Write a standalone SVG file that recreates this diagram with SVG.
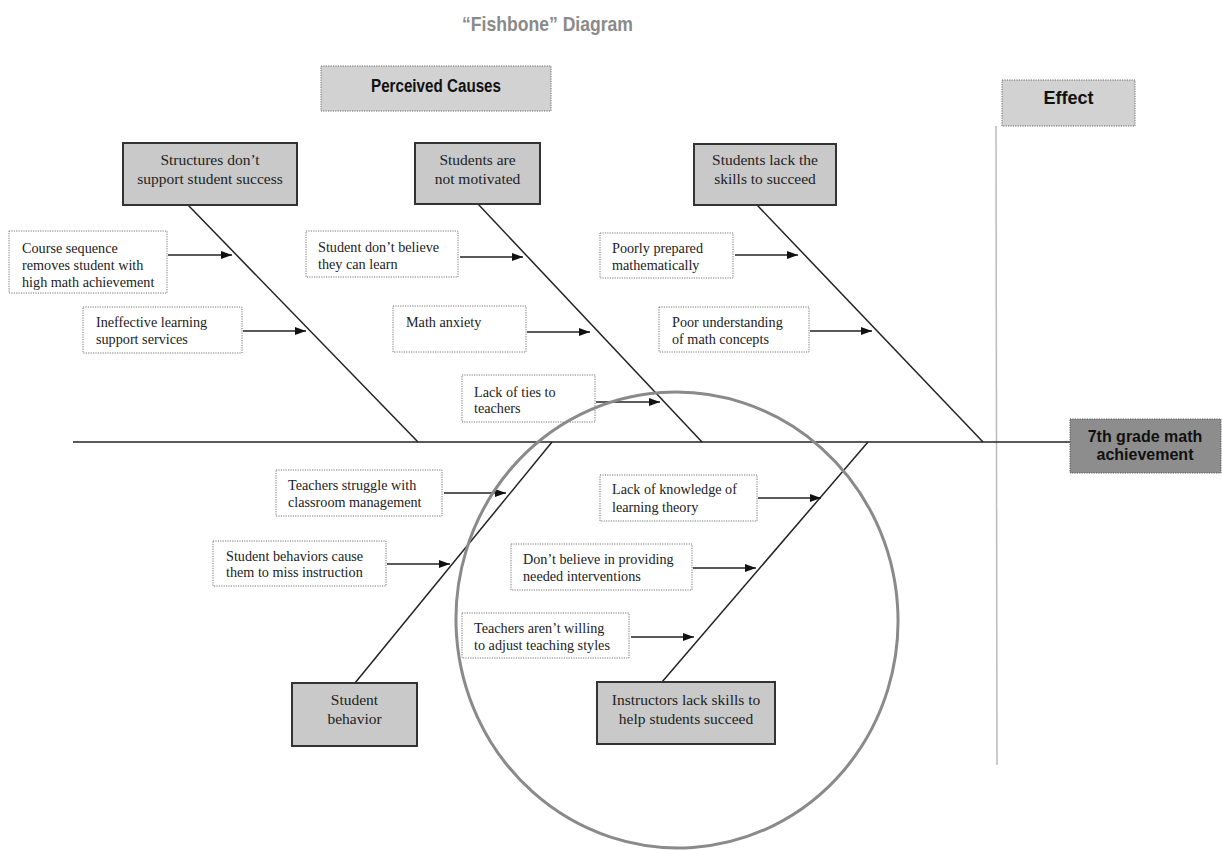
<svg xmlns="http://www.w3.org/2000/svg" width="1222" height="850" viewBox="0 0 1222 850">
<style>
.hdr{font-family:"Liberation Sans",Arial,sans-serif;font-weight:bold;fill:#111;}
.ttl{font-family:"Liberation Sans",Arial,sans-serif;font-weight:bold;fill:#8a8a8a;font-size:21px;}
.cause rect{fill:#c9c9c9;stroke:#333;stroke-width:2;}
.cause text{font-family:"Liberation Serif","Times New Roman",serif;font-size:15.5px;fill:#222;text-anchor:middle;}
.sub rect{fill:#fff;stroke:#777;stroke-width:1;stroke-dasharray:1.2 1.2;}
.sub text{font-family:"Liberation Serif","Times New Roman",serif;font-size:14.2px;fill:#222;}
.hbox{fill:#d2d2d2;stroke:#666;stroke-width:1;stroke-dasharray:1.2 1.2;}
.bone{stroke:#222;stroke-width:1.5;fill:none;}
.arr{stroke:#222;stroke-width:1.5;fill:none;marker-end:url(#ah);}
</style>
<defs>
<marker id="ah" markerWidth="11" markerHeight="8" refX="11" refY="4" orient="auto" markerUnits="userSpaceOnUse">
<path d="M0,0 L11,4 L0,8 Z" fill="#111"/>
</marker>
</defs>
<rect width="1222" height="850" fill="#fff"/>
<text class="ttl" x="462" y="31" textLength="171" lengthAdjust="spacingAndGlyphs">“Fishbone” Diagram</text>

<g id="perceived-causes">
<rect class="hbox" x="321" y="66" width="230" height="45"/>
<text class="hdr" x="371" y="92" font-size="18" textLength="130" lengthAdjust="spacingAndGlyphs">Perceived Causes</text>
</g>
<g id="effect">
<rect class="hbox" x="1002" y="80" width="133" height="46"/>
<text class="hdr" x="1068.5" y="104" font-size="18" text-anchor="middle">Effect</text>
</g>
<line x1="996" y1="126" x2="997" y2="765" stroke="#bbb" stroke-width="1.5"/>

<g id="connectors">
<line class="bone" x1="73" y1="442" x2="1070" y2="442" stroke-width="2"/>
<line class="bone" x1="188" y1="205" x2="418" y2="442"/>
<line class="bone" x1="478" y1="204" x2="702" y2="442"/>
<line class="bone" x1="757" y1="205" x2="983" y2="442"/>
<line class="bone" x1="355" y1="683" x2="552" y2="442"/>
<line class="bone" x1="662" y1="682" x2="868" y2="442"/>
<line class="arr" x1="168" y1="255" x2="232" y2="255"/>
<line class="arr" x1="243" y1="331" x2="306" y2="331"/>
<line class="arr" x1="460" y1="257" x2="523" y2="257"/>
<line class="arr" x1="527" y1="332" x2="590" y2="332"/>
<line class="arr" x1="596" y1="402" x2="660" y2="402"/>
<line class="arr" x1="735" y1="255" x2="798" y2="255"/>
<line class="arr" x1="810" y1="331" x2="872" y2="331"/>
<line class="arr" x1="444" y1="493" x2="506" y2="493"/>
<line class="arr" x1="387" y1="564" x2="450" y2="564"/>
<line class="arr" x1="758" y1="498" x2="821" y2="498"/>
<line class="arr" x1="693" y1="568" x2="756" y2="568"/>
<line class="arr" x1="631" y1="637" x2="694" y2="637"/>
</g>

<g id="effect-node">
<rect x="1070" y="419" width="151" height="54" fill="#8d8d8d" stroke="#555" stroke-width="1" stroke-dasharray="1.2 1.2"/>
<text class="hdr" x="1145" y="442" font-size="16" text-anchor="middle">7th grade math</text>
<text class="hdr" x="1145" y="460" font-size="16" text-anchor="middle">achievement</text>
</g>

<g id="cause-structures" class="cause">
<rect x="123" y="143" width="174" height="62"/>
<text x="210" y="165">Structures don’t</text>
<text x="210" y="184">support student success</text>
</g>
<g id="cause-motivation" class="cause">
<rect x="415" y="143" width="125" height="61"/>
<text x="477.5" y="165">Students are</text>
<text x="477.5" y="184">not motivated</text>
</g>
<g id="cause-skills" class="cause">
<rect x="694" y="144" width="142" height="61"/>
<text x="765" y="165">Students lack the</text>
<text x="765" y="184">skills to succeed</text>
</g>
<g id="cause-behavior" class="cause">
<rect x="292" y="683" width="125" height="63"/>
<text x="354.5" y="705">Student</text>
<text x="354.5" y="724">behavior</text>
</g>
<g id="cause-instructors" class="cause">
<rect x="597" y="682" width="178" height="62"/>
<text x="686" y="705">Instructors lack skills to</text>
<text x="686" y="724">help students succeed</text>
</g>

<g id="sub-course" class="sub">
<rect x="9" y="231" width="158" height="62"/>
<text x="22" y="253">Course sequence</text>
<text x="22" y="270">removes student with</text>
<text x="22" y="287">high math achievement</text>
</g>
<g id="sub-ineffective" class="sub">
<rect x="83" y="307" width="159" height="46"/>
<text x="96" y="327">Ineffective learning</text>
<text x="96" y="344">support services</text>
</g>
<g id="sub-believe" class="sub">
<rect x="306" y="231" width="152" height="46"/>
<text x="318" y="252">Student don’t believe</text>
<text x="318" y="269">they can learn</text>
</g>
<g id="sub-anxiety" class="sub">
<rect x="393" y="306" width="133" height="46"/>
<text x="406" y="327">Math anxiety</text>
</g>
<g id="sub-ties" class="sub">
<rect x="462" y="375" width="133" height="47"/>
<text x="474" y="397">Lack of ties to</text>
<text x="474" y="413">teachers</text>
</g>
<g id="sub-prepared" class="sub">
<rect x="600" y="233" width="133" height="45"/>
<text x="612" y="253">Poorly prepared</text>
<text x="612" y="270">mathematically</text>
</g>
<g id="sub-understanding" class="sub">
<rect x="659" y="307" width="150" height="45"/>
<text x="672" y="327">Poor understanding</text>
<text x="672" y="344">of math concepts</text>
</g>
<g id="sub-classroom" class="sub">
<rect x="276" y="470" width="166" height="46"/>
<text x="288" y="490">Teachers struggle with</text>
<text x="288" y="507">classroom management</text>
</g>
<g id="sub-miss" class="sub">
<rect x="213" y="541" width="173" height="45"/>
<text x="226" y="561">Student behaviors cause</text>
<text x="226" y="577">them to miss instruction</text>
</g>
<g id="sub-theory" class="sub">
<rect x="600" y="475" width="157" height="46"/>
<text x="612" y="494">Lack of knowledge of</text>
<text x="612" y="512">learning theory</text>
</g>
<g id="sub-interventions" class="sub">
<rect x="511" y="544" width="181" height="46"/>
<text x="523" y="564">Don’t believe in providing</text>
<text x="523" y="581">needed interventions</text>
</g>
<g id="sub-styles" class="sub">
<rect x="462" y="613" width="167" height="45"/>
<text x="474" y="633">Teachers aren’t willing</text>
<text x="474" y="650">to adjust teaching styles</text>
</g>

<ellipse id="focus-circle" cx="677" cy="620" rx="221" ry="228" fill="none" stroke="#8a8a8a" stroke-width="3" transform="rotate(-4 677 620)"/>
</svg>
